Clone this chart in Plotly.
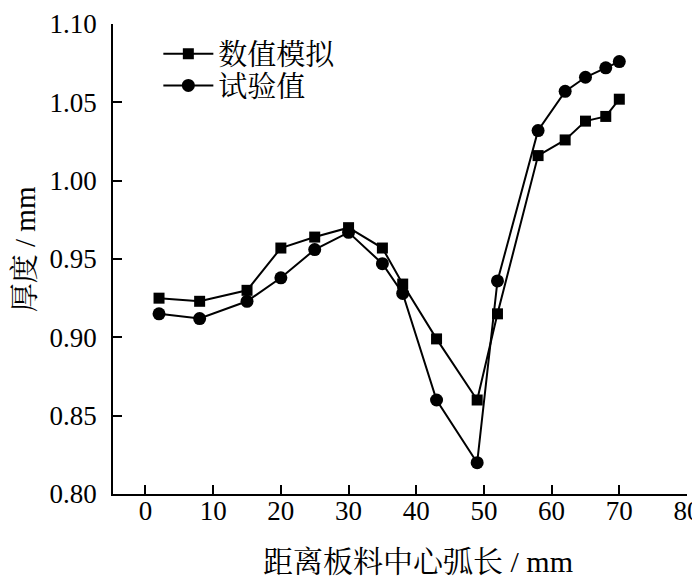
import plotly.graph_objects as go

# 距离板料中心弧长 (mm)
arc_length = [2, 8, 15, 20, 25, 30, 35, 38, 43, 49, 52, 58, 62, 65, 68, 70]

# 厚度 (mm)
thickness_sim = [0.925, 0.923, 0.930, 0.957, 0.964, 0.970, 0.957, 0.934,
                 0.899, 0.860, 0.915, 1.016, 1.026, 1.038, 1.041, 1.052]
thickness_exp = [0.915, 0.912, 0.923, 0.938, 0.956, 0.967, 0.947, 0.928,
                 0.860, 0.820, 0.936, 1.032, 1.057, 1.066, 1.072, 1.076]

x_ticks = [0, 10, 20, 30, 40, 50, 60, 70, 80]
y_ticks = [0.80, 0.85, 0.90, 0.95, 1.00, 1.05, 1.10]

font_family = "Liberation Serif, Noto Serif CJK SC, Noto Sans CJK SC, serif"

fig = go.Figure()

fig.add_trace(go.Scatter(
    x=arc_length, y=thickness_sim, mode='lines+markers', name='数值模拟',
    line=dict(color='black', width=2),
    marker=dict(symbol='square', size=11, color='black'),
    legend='legend'
))
fig.add_trace(go.Scatter(
    x=arc_length, y=thickness_exp, mode='lines+markers', name='试验值',
    line=dict(color='black', width=2),
    marker=dict(symbol='circle', size=13, color='black'),
    legend='legend2'
))

axis_common = dict(
    showline=True, linecolor='black', linewidth=1.8,
    ticks='inside', ticklen=9, tickwidth=1.8, tickcolor='black',
    showgrid=False, zeroline=False, automargin=False,
    tickfont=dict(size=27, color='black', family=font_family),
)

legend_common = dict(
    xanchor='left', yanchor='middle',
    bgcolor='rgba(0,0,0,0)', font=dict(size=29, color='black'),
    itemwidth=50
)

# la page ajoute une marge de 8 px autour du graphique
fig.update_layout(
    width=700, height=577,
    margin=dict(l=105, r=21, t=16, b=91, autoexpand=False),
    plot_bgcolor='white', paper_bgcolor='white',
    font=dict(family=font_family, color='black', size=28),
    xaxis=dict(
        range=[-4.8, 80], tickvals=x_ticks,
        ticktext=[str(v) for v in x_ticks],
        ticklabelstandoff=-8, ticklabeloverflow='allow',
        **axis_common
    ),
    yaxis=dict(
        range=[0.80, 1.10], tickvals=y_ticks,
        ticktext=['%.2f' % v for v in y_ticks],
        ticklabelstandoff=9, ticklabeloverflow='allow',
        **axis_common
    ),
    legend=dict(x=0.079, y=0.9365, **legend_common),
    legend2=dict(x=0.079, y=0.869, **legend_common),
    showlegend=True,
    annotations=[
        dict(text='距离板料中心弧长 / mm', xref='paper', yref='paper',
             x=0.531, y=-0.1426, xanchor='center', yanchor='middle',
             showarrow=False, font=dict(size=30, color='black')),
        dict(text='厚度 / mm', xref='paper', yref='paper',
             x=-0.154, y=0.52, xanchor='center', yanchor='middle',
             textangle=-90, showarrow=False,
             font=dict(size=29, color='black')),
    ],
)

fig.write_html("out.html")
